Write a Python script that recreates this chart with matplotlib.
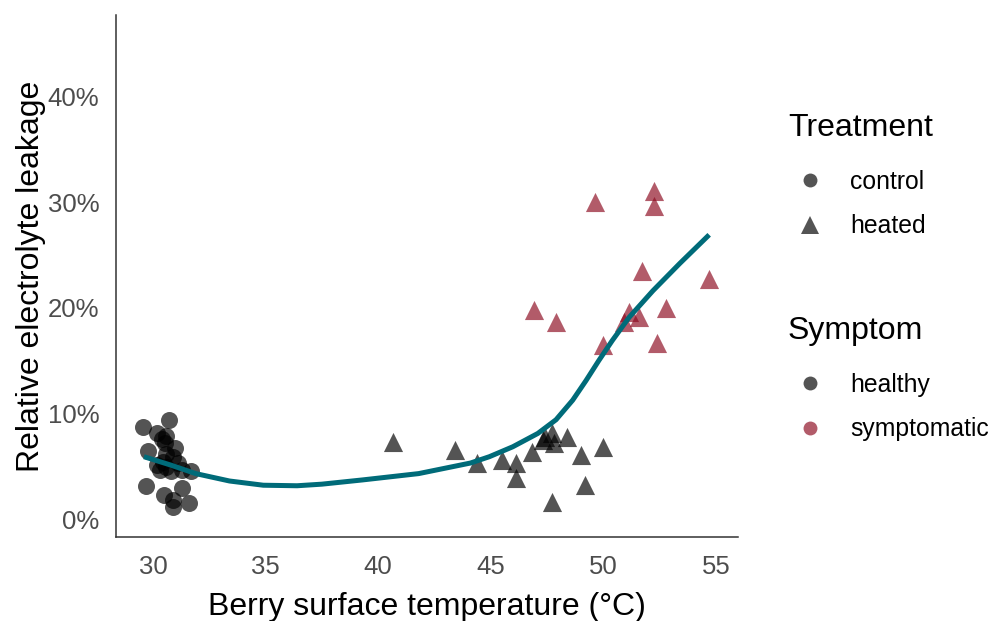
import matplotlib.pyplot as plt
from matplotlib.lines import Line2D
from matplotlib.ticker import PercentFormatter

plt.rcParams['font.family'] = ['Liberation Sans', 'DejaVu Sans']

# control berries (healthy)
ctrl_x = [29.54, 30.16, 30.6, 30.53, 31.0, 29.8, 30.6, 30.44, 31.1, 30.3, 30.8, 31.3,
          31.7, 30.16, 29.7, 30.5, 30.9, 31.3, 31.6, 30.9, 30.7, 30.4, 30.9, 30.6]
ctrl_y = [8.7, 8.1, 7.9, 7.2, 6.7, 6.4, 6.2, 5.4, 5.3, 4.6, 4.5, 4.6,
          4.5, 5.1, 3.1, 2.3, 1.8, 2.9, 1.5, 1.1, 9.4, 7.6, 5.9, 4.9]

# heated, still healthy
heat_x = [40.65, 43.4, 44.4, 45.5, 46.1, 46.1, 46.85, 47.3, 47.7, 47.8, 47.4, 48.4,
          49.0, 50.0, 49.2, 47.7]
heat_y = [7.3, 6.5, 5.3, 5.6, 5.3, 3.9, 6.3, 7.5, 8.1, 7.2, 7.8, 7.8,
          6.1, 6.8, 3.2, 1.6]

# heated, symptomatic
symp_x = [49.65, 52.26, 52.26, 51.7, 54.7, 52.8, 52.4, 50.0, 51.15, 51.6, 50.9, 46.94, 47.9]
symp_y = [30.0, 31.0, 29.6, 23.5, 22.7, 19.95, 16.7, 16.5, 19.6, 19.1, 18.65, 19.8, 18.65]

# fitted trend
fit_x = [29.6, 30.8, 31.9, 33.4, 34.9, 36.4, 37.5, 39.3, 41.8, 44.1, 44.94, 45.98,
         47.09, 47.9, 48.64, 49.23, 49.8, 50.4, 51.15, 52.2, 53.4, 54.7]
fit_y = [5.9, 5.1, 4.3, 3.6, 3.2, 3.15, 3.3, 3.7, 4.3, 5.3, 5.9, 6.84,
         8.1, 9.4, 11.25, 13.1, 15.0, 16.9, 19.1, 21.6, 24.2, 26.9]

grey = 'black'
red = '#8c0a20'
alpha = 0.67

fig = plt.figure(figsize=(9.92, 6.21), dpi=100)
ax = fig.add_axes([116/992, 84/621, (738-116)/992, (537-15)/621])

ax.scatter(ctrl_x, ctrl_y, s=150, marker='o', color=grey, alpha=alpha, linewidths=0)
ax.scatter(heat_x, heat_y, s=190, marker='^', color=grey, alpha=alpha, linewidths=0)
ax.scatter(symp_x, symp_y, s=190, marker='^', color=red, alpha=alpha, linewidths=0)
ax.plot(fit_x, fit_y, color='#006b79', lw=3.6, solid_capstyle='butt', solid_joinstyle='round')

ax.set_xlim(28.36, 55.98)
ax.set_ylim(-1.7, 47.7)
ax.set_xticks([30, 35, 40, 45, 50, 55])
ax.set_yticks([0, 10, 20, 30, 40])
ax.yaxis.set_major_formatter(PercentFormatter(decimals=0))
ax.tick_params(length=0, labelsize=18.5, labelcolor='#4d4d4d')
ax.tick_params(axis='x', pad=13)
ax.tick_params(axis='y', pad=12)
for s in ['top', 'right']:
    ax.spines[s].set_visible(False)
for s in ['left', 'bottom']:
    ax.spines[s].set_color('#333333')
    ax.spines[s].set_linewidth(1.1)

ax.set_xlabel('Berry surface temperature (°C)', fontsize=23, labelpad=9)
ax.set_ylabel('Relative electrolyte leakage', fontsize=23, labelpad=1)

# legends: titles as separate texts, entries as title-less legends
legkw = dict(loc='upper left', bbox_transform=fig.transFigure, frameon=False,
             fontsize=17.8, handlelength=1.7, handletextpad=0.77,
             labelspacing=0.82, borderaxespad=0)

fig.text(788/992, 1 - 128/621, 'Treatment', fontsize=23, ha='left', va='center')
h1 = [Line2D([], [], ls='', marker='o', ms=10, color=grey, alpha=alpha, mew=0),
      Line2D([], [], ls='', marker='^', ms=13, color=grey, alpha=alpha, mew=0)]
leg1 = ax.legend(h1, ['control', 'heated'], bbox_to_anchor=(779/992, 1 - 160/621), **legkw)
ax.add_artist(leg1)

fig.text(788/992, 1 - 331/621, 'Symptom', fontsize=23, ha='left', va='center')
h2 = [Line2D([], [], ls='', marker='o', ms=10, color=grey, alpha=alpha, mew=0),
      Line2D([], [], ls='', marker='o', ms=10, color=red, alpha=alpha, mew=0)]
ax.legend(h2, ['healthy', 'symptomatic'], bbox_to_anchor=(779/992, 1 - 363/621), **legkw)

fig.savefig('out.png', dpi=100)
